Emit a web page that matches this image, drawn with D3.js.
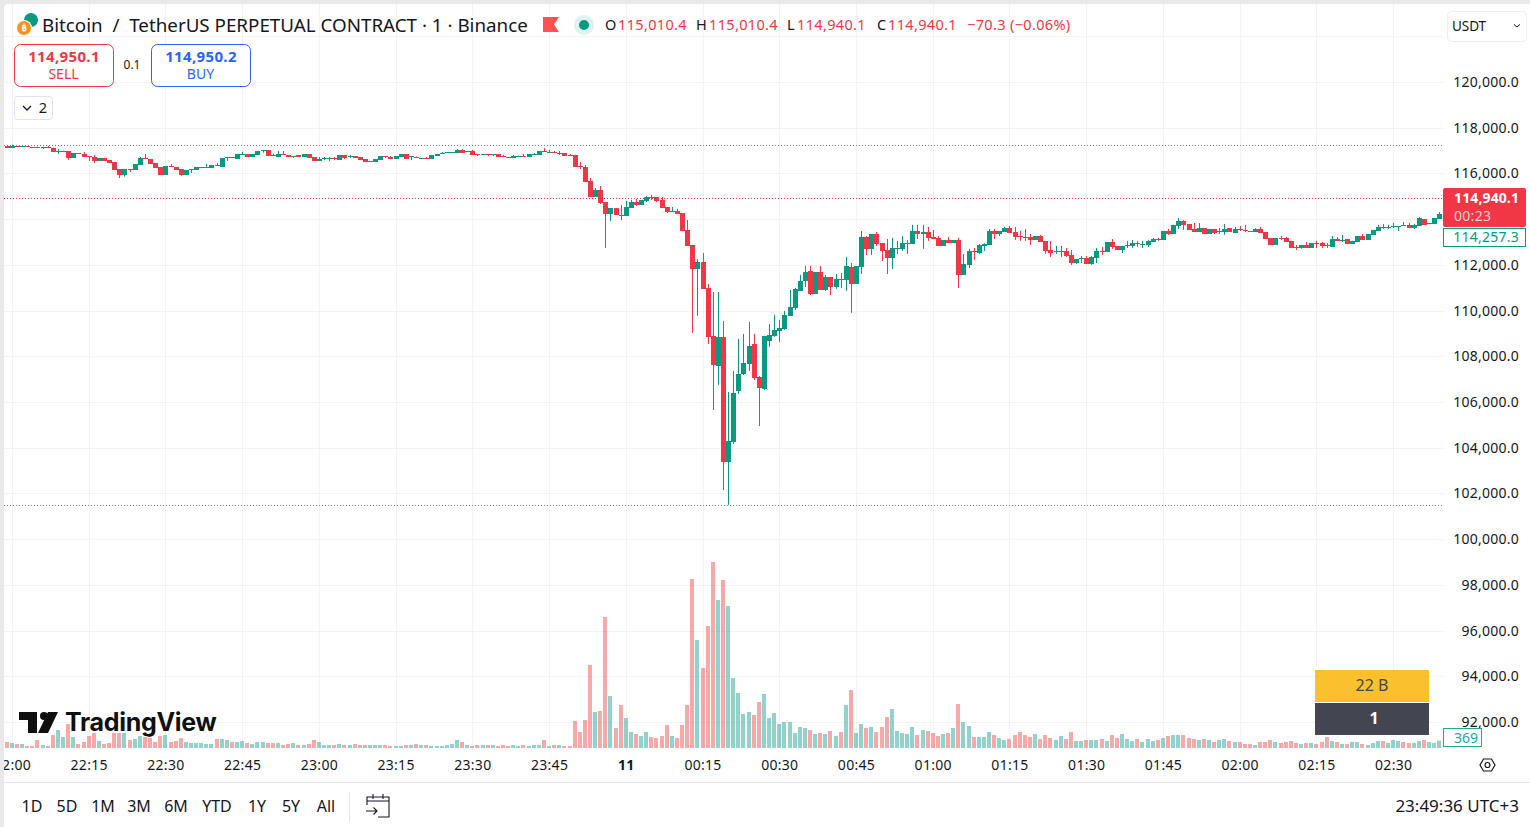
<!DOCTYPE html>
<html>
<head>
<meta charset="utf-8">
<title>BTCUSDT.P 1m</title>
<script src="https://cdnjs.cloudflare.com/ajax/libs/d3/7.8.5/d3.min.js"></script>
<style>
html, body { margin: 0; padding: 0; background: #e9e9e9; overflow: hidden; }
svg { display: block; font-family: "Noto Sans", sans-serif; }
</style>
</head>
<body>
<div id="chart"></div>
<script>
// chart values, one entry per minute from 21:59 to 02:39

var opens = [
117200,117110,117200,117160,117180,117160,117160,117130,117160,117130,
116960,116970,116980,116680,116890,116870,116760,116720,116540,116680,
116590,116500,116180,115930,116180,116150,116370,116680,116630,116460,
116280,115930,116330,116280,116190,115930,116160,116150,116260,116270,
116240,116370,116280,116680,116700,116630,116830,116850,116720,116810,
117000,117030,116810,116720,116850,116810,116730,116810,116720,116850,
116720,116540,116640,116640,116660,116590,116810,116720,116760,116720,
116630,116500,116500,116590,116760,116720,116630,116720,116850,116730,
116740,116640,116670,116630,116760,116850,116920,116910,116890,117030,
116960,116980,116830,116810,116830,116810,116830,116750,116700,116680,
116760,116780,116720,116830,116810,116980,116920,116930,116860,116890,
116810,116810,116330,116280,115670,114970,115280,114750,114230,114490,
114200,114140,114490,114750,114620,114800,114970,114970,114840,114530,
114330,114360,114270,113530,112870,111820,112130,110990,108890,107580,
108850,103380,104250,106480,107230,107670,108540,107100,106570,108670,
108890,109110,109200,109770,110110,110860,111300,111730,110730,111690,
110900,111470,111030,111380,111340,111910,111160,111910,113220,112700,
113350,112960,112650,112300,112720,112700,112940,112910,113480,113350,
113440,113220,113180,112830,113090,112960,113090,111560,112000,112610,
112520,112830,112870,113480,113350,113440,113610,113440,113250,113220,
113220,113090,113260,113050,112650,112590,112590,112610,112430,112080,
112260,112300,112040,112300,112610,112560,113000,112830,112650,112850,
112830,112960,112890,112870,113000,113130,113090,113480,113350,113700,
113920,113790,113570,113440,113610,113350,113570,113460,113440,113610,
113400,113570,113530,113480,113440,113570,113440,113180,112870,113180,
113180,113050,112780,112740,112870,112740,112960,112960,112870,112780,
113130,113070,113130,112910,113000,113260,113090,113310,113480,113660,
113640,113660,113680,113750,113750,113610,113700,114010,113790,113790,114010];

var highs = [
117200,117260,117200,117200,117180,117160,117180,117160,117200,117130,
117070,116990,116980,116890,116890,116940,116760,116810,116680,116680,
116590,116500,116180,116190,116190,116410,116720,116850,116630,116460,
116280,116330,116410,116280,116190,116150,116190,116280,116280,116410,
116370,116460,116680,116720,116720,116850,116940,116850,116850,116980,
117030,117030,116870,116980,116980,116810,116760,116810,116850,116850,
116720,116720,116720,116720,116720,116810,116810,116810,116760,116720,
116630,116530,116630,116760,116760,116760,116760,116850,116850,116750,
116740,116670,116720,116810,116860,116940,116930,116930,117070,117070,
116980,117030,116830,116830,116830,116830,116830,116810,116700,116810,
116780,116850,116850,116890,116980,117110,117030,116980,116980,116890,
116850,116810,116500,116370,115800,115360,115450,114750,114490,114490,
114620,114800,114840,114880,114840,115010,115060,114970,114970,114530,
114530,114450,114270,113960,112870,112260,112520,111160,110810,110810,
109550,106440,107360,108760,108980,109500,108980,107140,108890,109410,
109810,109590,109980,110900,110990,111560,111950,111950,111690,111950,
111560,111470,111600,111650,112350,112080,111950,113480,113260,113350,
113440,112960,113130,113180,113050,113260,113090,113750,113750,113750,
113660,113530,113260,113090,113220,113090,113180,112480,112700,112740,
112910,112950,113570,113570,113480,113660,113700,113660,113480,113570,
113350,113260,113310,113050,113050,112830,112830,112740,112650,112260,
112390,112390,112390,112740,112780,113000,113130,112830,112830,113050,
113090,113050,113050,113090,113180,113180,113480,113570,113750,114050,
113960,113790,113830,113830,113610,113570,113570,113610,113790,113610,
113660,113700,113750,113480,113610,113660,113440,113180,113180,113260,
113220,113050,112870,112870,113000,112960,113050,113000,112960,113260,
113220,113310,113130,113050,113260,113350,113350,113530,113750,113790,
113750,113830,113700,113880,113830,113790,114090,114010,113830,114050,114310];

var lows = [
117110,117110,117160,117160,117160,117130,117110,117070,117110,116940,
116860,116960,116590,116680,116860,116720,116540,116460,116540,116540,
116470,116150,115800,115860,116070,116150,116370,116630,116410,116240,
115930,115930,116280,116150,115890,115930,116020,116150,116260,116270,
116240,116340,116280,116540,116680,116630,116830,116720,116720,116810,
116910,116760,116780,116720,116820,116720,116680,116720,116720,116680,
116540,116540,116590,116540,116600,116590,116630,116680,116680,116590,
116500,116500,116500,116590,116680,116630,116630,116720,116630,116590,
116710,116640,116640,116630,116760,116850,116900,116910,116890,116890,
116960,116810,116760,116810,116760,116760,116720,116720,116680,116680,
116760,116760,116720,116830,116810,116950,116920,116900,116810,116760,
116780,116280,116190,115630,114970,114970,114660,112740,113920,114180,
113960,114140,114490,114580,114620,114750,114840,114750,114490,114270,
114330,114230,113480,112830,109020,109770,110950,108540,105650,106750,
102150,101500,104170,106350,107180,107360,106970,104950,106530,108410,
108850,108630,109150,109770,110030,110860,111030,110680,110730,110900,
110860,110680,110950,110990,110860,109900,111160,111600,112430,112430,
112830,112170,111600,111820,112480,112610,112480,112910,113130,112700,
113050,113130,112830,112830,112960,112960,110990,111560,111860,112210,
112480,112610,112870,113130,113260,113440,113400,113090,113050,113050,
112870,113090,113000,112480,112350,112480,112350,112350,112000,112040,
112080,112040,112000,112080,112430,112560,112700,112650,112520,112740,
112740,112780,112740,112780,113000,113050,113090,113310,113350,113570,
113530,113530,113440,113440,113350,113350,113350,113350,113310,113440,
113400,113480,113440,113440,113440,113400,113130,112870,112870,113090,
113000,112740,112650,112700,112740,112740,112740,112740,112740,112780,
113050,113000,112910,112910,113000,113090,113090,113310,113480,113570,
113570,113610,113480,113700,113610,113570,113700,113750,113790,113790,114010];

var closes = [
117110,117200,117160,117180,117160,117140,117110,117160,117120,116940,
116990,116980,116690,116890,116860,116720,116730,116540,116680,116540,
116470,116150,115930,116190,116170,116410,116680,116630,116410,116240,
115930,116330,116290,116150,115930,116150,116190,116280,116280,116280,
116370,116340,116680,116720,116680,116850,116850,116720,116850,116980,
117030,116760,116780,116850,116820,116720,116760,116720,116850,116680,
116540,116630,116660,116660,116630,116810,116680,116750,116680,116590,
116500,116530,116630,116760,116730,116630,116760,116850,116630,116750,
116710,116670,116640,116810,116860,116890,116930,116930,117030,116890,
116980,116810,116810,116830,116810,116830,116720,116720,116680,116760,
116780,116760,116850,116850,116980,116950,116930,116900,116880,116760,
116780,116280,116300,115630,114970,115280,114710,114230,114490,114180,
114140,114530,114750,114620,114840,114970,114930,114800,114490,114310,
114360,114230,113480,112830,111820,112130,110950,108850,107620,108850,
103380,104300,106400,107230,107710,108450,107050,106620,108890,108930,
109150,109240,109810,110160,110950,111300,111690,110730,111690,110900,
111470,111030,111380,111360,111950,111160,111950,113220,112700,113350,
112910,112610,112300,112740,112740,112960,112960,113480,113350,113440,
113180,113130,112830,113090,112960,113090,111560,112040,112610,112590,
112870,112910,113480,113350,113480,113610,113400,113220,113220,113190,
113090,113260,113000,112610,112520,112610,112610,112390,112080,112260,
112300,112040,112350,112610,112560,113000,112780,112650,112830,112870,
112960,112940,112910,113050,113130,113110,113480,113350,113750,113920,
113750,113530,113440,113610,113350,113570,113400,113480,113570,113440,
113570,113530,113480,113460,113570,113400,113130,112870,113180,113160,
113000,112740,112740,112870,112740,112960,112910,112830,112830,113130,
113050,113090,112910,113050,113260,113090,113350,113530,113660,113610,
113660,113700,113700,113700,113610,113750,114050,113750,113830,114050,114230];

var volumes = [
300,250,200,200,100,100,400,150,100,650,
900,550,1200,550,200,300,600,750,350,200,
250,750,750,750,400,450,600,550,500,300,
600,650,300,350,500,300,250,250,250,200,
200,450,450,400,300,300,350,250,200,300,
300,250,250,250,150,200,250,150,150,200,
400,300,150,150,150,200,150,150,200,150,
150,150,150,150,150,100,100,100,150,150,
200,150,150,100,100,100,150,200,400,300,
150,100,150,150,150,150,100,150,100,150,
100,150,100,150,150,400,100,150,150,100,
100,1350,800,1400,4150,1800,1850,6550,2600,1000,
2150,1500,800,700,600,800,550,500,600,1150,
600,500,1150,2150,8450,5400,4000,6100,9300,7400,
8400,7100,3500,2750,1700,1800,1650,2300,2700,1500,
1750,1200,1300,1300,750,1050,1000,900,700,750,
700,850,600,800,2150,2900,750,1200,1000,1050,
800,1050,1550,1950,850,750,700,1050,650,900,
850,750,600,700,750,1000,2200,1300,1100,550,
550,550,800,650,500,400,450,650,800,650,
550,700,450,650,500,400,600,450,800,350,
350,400,400,400,450,350,650,500,700,450,
350,450,300,450,350,400,500,600,650,650,
650,500,450,400,450,400,300,400,450,350,
300,300,200,200,150,300,300,400,300,250,
300,350,250,200,250,250,200,300,550,350,
300,200,200,300,300,200,150,250,350,350,
250,400,350,300,250,250,350,400,300,250,369];

var priceTicks = [120000,118000,116000,112000,110000,108000,106000,104000,102000,100000,98000,96000,94000,92000];
var priceGrid = [122000,120000,118000,116000,114000,112000,110000,108000,106000,104000,102000,100000,98000,96000,94000,92000];
var rangeButtons = ["1D","5D","1M","3M","6M","YTD","1Y","5Y","All"];
var rangeX = [32,67,103,139,176,217,257,291,326];
var legendItems = ["O","115,010.4","H","115,010.4","L","114,940.1","C","114,940.1","−70.3 (−0.06%)"];
var legendX = [605,618,696,709,787,797,877,888,967];
var highLine = 117260, lowLine = 101500, lastPrice = 114940.1;

var RED = "#f23645", GREEN = "#089981", INK = "#131722", GRID = "#f3f3f3";

var w = 1530, h = 827,
    svg = d3.select("#chart").append("svg").attr("width", w).attr("height", h);

// white panel over the grey page

svg.append("rect").attr("x", 4).attr("y", 4).attr("width", w).attr("height", h).attr("rx", 4).attr("fill", "#fff");

var t0 = new Date(2025, 9, 10, 21, 59);
var times = opens.map(function(d, i) { return new Date(t0.getTime() + i * 60000); });

var x = d3.scaleTime().domain([times[0], times[times.length - 1]]).range([6.8, 1439.2]);
var y = d3.scaleLinear().domain([92000, 120000]).range([722, 82]);
var v = d3.scaleLinear().domain([0, 10000]).range([748, 548]);

var timeTicks = d3.timeMinute.every(15).range(new Date(2025, 9, 10, 22, 0), new Date(2025, 9, 11, 2, 31));

svg.append("clipPath").attr("id", "pane").append("rect")
    .attr("x", 4).attr("y", 4).attr("width", 1439).attr("height", 748);
svg.append("clipPath").attr("id", "timeclip").append("rect")
    .attr("x", 4).attr("y", 752).attr("width", 1439).attr("height", 30);

// grid

var pane = svg.append("g").attr("clip-path", "url(#pane)");

pane.selectAll(".hgrid").data(priceGrid).enter().append("line")
    .attr("x1", 4).attr("x2", 1443)
    .attr("y1", function(d) { return Math.round(y(d)) + 0.5; })
    .attr("y2", function(d) { return Math.round(y(d)) + 0.5; })
    .attr("stroke", GRID);

pane.selectAll(".vgrid").data(timeTicks).enter().append("line")
    .attr("x1", function(d) { return Math.round(x(d)) + 0.5; })
    .attr("x2", function(d) { return Math.round(x(d)) + 0.5; })
    .attr("y1", 4).attr("y2", 752)
    .attr("stroke", GRID);

// volume bars

function isUp(i) { return closes[i] >= opens[i]; }

pane.selectAll(".vol").data(volumes).enter().append("rect")
    .attr("x", function(d, i) { return Math.round(x(times[i])) - 2; })
    .attr("width", 4)
    .attr("y", function(d) { return v(d); })
    .attr("height", function(d) { return v(0) - v(d); })
    .attr("fill", function(d, i) { return isUp(i) ? "#26a69a" : "#ef5350"; })
    .attr("fill-opacity", 0.5);

// price lines

function priceLine(value, color) {
    var py = Math.round(y(value)) + 0.5;
    pane.append("line").attr("x1", 4).attr("x2", 1443).attr("y1", py).attr("y2", py)
        .attr("stroke", color).attr("stroke-dasharray", "1 2");
}
priceLine(highLine, "#787b86");
priceLine(lowLine, "#787b86");
priceLine(lastPrice, RED);

// candles

pane.selectAll(".wick").data(times).enter().append("line")
    .attr("x1", function(d) { return Math.round(x(d)) + 0.5; })
    .attr("x2", function(d) { return Math.round(x(d)) + 0.5; })
    .attr("y1", function(d, i) { return y(highs[i]); })
    .attr("y2", function(d, i) { return y(lows[i]); })
    .attr("stroke", function(d, i) { return isUp(i) ? GREEN : RED; });

pane.selectAll(".body").data(times).enter().append("rect")
    .attr("x", function(d) { return Math.round(x(d)) - 2; })
    .attr("width", 5)
    .attr("y", function(d, i) { return Math.round(y(Math.max(opens[i], closes[i]))); })
    .attr("height", function(d, i) { return Math.max(1, Math.round(Math.abs(y(opens[i]) - y(closes[i])))); })
    .attr("fill", function(d, i) { return isUp(i) ? GREEN : RED; });

// axes

var yAxis = svg.append("g").call(d3.axisRight(y).tickValues(priceTicks).tickSize(0).tickFormat(d3.format(",.1f")));
yAxis.select(".domain").remove();
yAxis.selectAll("text").attr("x", 1519).attr("text-anchor", "end")
    .attr("font-family", '"Noto Sans", sans-serif').attr("font-size", 14).attr("letter-spacing", 0.25).attr("fill", INK);

var fmtTime = d3.timeFormat("%H:%M");
var xAxis = svg.append("g").attr("clip-path", "url(#timeclip)").append("g")
    .attr("transform", "translate(0,752)")
    .call(d3.axisBottom(x).tickValues(timeTicks).tickSize(0).tickFormat(function(d) {
        return fmtTime(d) === "00:00" ? "11" : fmtTime(d);
    }));
xAxis.select(".domain").remove();
xAxis.selectAll("text").attr("y", 13).attr("dy", "0.35em")
    .attr("font-family", '"Noto Sans", sans-serif').attr("font-size", 14).attr("letter-spacing", 0.3).attr("fill", INK)
    .attr("font-weight", function(d) { return fmtTime(d) === "00:00" ? "bold" : "normal"; });

svg.append("line").attr("x1", 4).attr("x2", w).attr("y1", 782.5).attr("y2", 782.5).attr("stroke", "#e6e6e6");

function label(text, tx, ty, size, color, anchor, weight) {
    return svg.append("text").attr("x", tx).attr("y", ty).attr("dy", "0.35em")
        .attr("font-size", size).attr("fill", color)
        .attr("text-anchor", anchor || "start").attr("font-weight", weight || "normal")
        .text(text);
}

// header

svg.append("circle").attr("cx", 31).attr("cy", 20).attr("r", 7).attr("fill", "#089981");
svg.append("circle").attr("cx", 24).attr("cy", 28).attr("r", 8).attr("fill", "#fff");
svg.append("circle").attr("cx", 24).attr("cy", 28).attr("r", 7).attr("fill", "#f7931a");
label("₿", 24, 28, 9, "#fff", "middle", "bold");
label("Bitcoin  /  TetherUS PERPETUAL CONTRACT · 1 · Binance", 42, 25, 18.8, INK).style("white-space", "pre");

svg.append("path").attr("d", "M543 17H559L554 24.5L559 32H543Z").attr("fill", "#ff5252");
svg.append("circle").attr("cx", 584).attr("cy", 25).attr("r", 10).attr("fill", "#dff2ef");
svg.append("circle").attr("cx", 584).attr("cy", 25).attr("r", 5).attr("fill", "#089981");

legendItems.forEach(function(d, i) {
    var isValue = i % 2 === 1 || i === 8;
    label(d, legendX[i], 25, 14.5, isValue ? RED : INK).attr("letter-spacing", 0.35);
});

// buy and sell

function tradeBox(bx, color, price, side) {
    svg.append("rect").attr("x", bx + 0.5).attr("y", 44.5).attr("width", 99).attr("height", 42)
        .attr("rx", 6).attr("fill", "#fff").attr("stroke", color);
    label(price, bx + 50, 57, 15, color, "middle", "bold").attr("letter-spacing", 0.35);
    label(side, bx + 49.5, 74, 14, color, "middle");
}
tradeBox(14, RED, "114,950.1", "SELL");
tradeBox(151, "#2962ff", "114,950.2", "BUY");
label("0.1", 132, 65, 12, INK, "middle");

svg.append("rect").attr("x", 14.5).attr("y", 96.5).attr("width", 38).attr("height", 23)
    .attr("rx", 3).attr("fill", "#fff").attr("stroke", "#e0e3eb");
svg.append("path").attr("d", "M23 106L27 110L31 106").attr("fill", "none").attr("stroke", INK).attr("stroke-width", 1.3);
label("2", 43, 108, 14.5, INK, "middle");

// currency selector

svg.append("rect").attr("x", 1447.5).attr("y", 11.5).attr("width", 79).attr("height", 30)
    .attr("rx", 4).attr("fill", "#fff").attr("stroke", "#eeeeee");
label("USDT", 1469, 26, 13.5, INK, "middle");
svg.append("path").attr("d", "M1514 24.5L1517 27L1520 24.5").attr("fill", "none").attr("stroke", INK);

// last price labels

svg.append("rect").attr("x", 1443).attr("y", 188).attr("width", 83).attr("height", 39).attr("rx", 2).attr("fill", RED);
label(d3.format(",.1f")(lastPrice), 1519, 198, 14, "#fff", "end", "bold").attr("letter-spacing", 0.1);
label("00:23", 1454, 216, 14, "#fbd0d4").attr("letter-spacing", 0.3);
svg.append("rect").attr("x", 1443.5).attr("y", 228.5).attr("width", 82).attr("height", 18).attr("fill", "#fff").attr("stroke", GREEN);
label("114,257.3", 1519, 237, 14, GREEN, "end").attr("letter-spacing", 0.25);

svg.append("rect").attr("x", 1443.5).attr("y", 728.5).attr("width", 38).attr("height", 18).attr("fill", "#fff").attr("stroke", "#26a69a");
label(String(volumes[volumes.length - 1]), 1466, 738, 14, "#26a69a", "middle");

// timeframe boxes

svg.append("rect").attr("x", 1315).attr("y", 670).attr("width", 114).attr("height", 32).attr("fill", "#fbc02d");
label("22 B", 1372, 685, 16, "#434651", "middle");
svg.append("rect").attr("x", 1315).attr("y", 703).attr("width", 114).attr("height", 32).attr("fill", "#434651");
label("1", 1374, 718, 16, "#fff", "middle", "bold");

// logo

svg.append("path").attr("d", "M19 712H37V733H28V720H19Z").attr("fill", "#0f0f0f");
svg.append("circle").attr("cx", 44).attr("cy", 716).attr("r", 4).attr("fill", "#0f0f0f");
svg.append("path").attr("d", "M48 712H58L48 733H38Z").attr("fill", "#0f0f0f");
label("TradingView", 65, 722, 25, "#0f0f0f", "start", "bold").attr("font-family", "Inter").attr("letter-spacing", "-0.3");

// settings icon

svg.append("path").attr("d", "M1480 765L1483.5 759H1491.5L1495 765L1491.5 771H1483.5Z").attr("fill", "none").attr("stroke", INK).attr("stroke-width", 1.2);
svg.append("circle").attr("cx", 1487.5).attr("cy", 765).attr("r", 2.5).attr("fill", "none").attr("stroke", INK).attr("stroke-width", 1.2);

// bottom toolbar

rangeButtons.forEach(function(d, i) { label(d, rangeX[i], 806, 16, INK, "middle"); });
svg.append("line").attr("x1", 349.5).attr("x2", 349.5).attr("y1", 792).attr("y2", 822).attr("stroke", "#e6e6e6");
svg.append("path").attr("d", "M367 805V797H389V817H378M367 801H389M373 794V799M383 794V799M366 811H377M373.5 807.5L377 811L373.5 814.5")
    .attr("fill", "none").attr("stroke", INK).attr("stroke-width", 1.1);
label("23:49:36 UTC+3", 1519, 806, 17, INK, "end");
</script>
</body>
</html>
